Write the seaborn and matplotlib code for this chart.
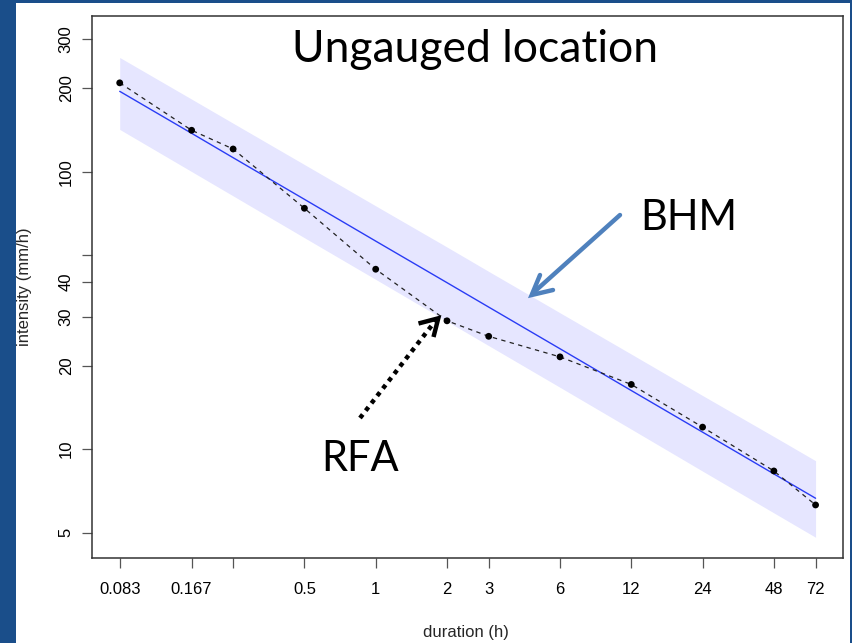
import numpy as np
import pandas as pd
import matplotlib
matplotlib.use("Agg")
import matplotlib.pyplot as plt
from matplotlib.lines import Line2D
from matplotlib.patches import Rectangle
from matplotlib.ticker import FixedLocator, FixedFormatter, NullLocator
import seaborn as sns

# ---- data ----
durations = [0.083, 0.167, 0.25, 0.5, 1, 2, 3, 6, 12, 24, 48, 72]
rfa_intensity = [209, 141, 120.7, 73.8, 44.5, 29.0, 25.5, 21.5, 17.1, 12.0, 8.34, 6.29]
bhm_median = [194.8, 137.5, 112.3, 79.5, 56.2, 39.8, 32.5, 23.0, 16.26, 11.51, 8.14, 6.65]
bhm_upper = [258, 182.6, 149.5, 106.1, 75.3, 53.5, 43.7, 31.0, 22.0, 15.6, 11.1, 9.08]
bhm_lower = [142, 100.1, 81.8, 57.8, 40.9, 28.9, 23.6, 16.7, 11.8, 8.33, 5.89, 4.81]

x_ticks = [0.083, 0.167, 0.25, 0.5, 1, 2, 3, 6, 12, 24, 48, 72]
x_ticklabels = ["0.083", "0.167", "", "0.5", "1", "2", "3", "6", "12", "24", "48", "72"]
y_ticks = [5, 10, 20, 30, 40, 50, 100, 200, 300]
y_ticklabels = ["5", "10", "20", "30", "40", "", "100", "200", "300"]

title_text = "Ungauged location"
bhm_text = "BHM"
rfa_text = "RFA"
x_label = "duration (h)"
y_label = "intensity (mm/h)"

df = pd.DataFrame({"duration": durations, "rfa": rfa_intensity,
                   "median": bhm_median, "upper": bhm_upper, "lower": bhm_lower})

sns.set_theme(style="ticks")
plt.rcParams["font.family"] = ["Liberation Sans", "DejaVu Sans"]

W, H = 852, 643
fig = plt.figure(figsize=(W / 100, H / 100), dpi=100)
fig.patch.set_facecolor("#1a4e8a")
# white slide panel
fig.patches.append(Rectangle((16 / W, 0), (850 - 16) / W, (H - 3) / H,
                             transform=fig.transFigure, facecolor="white",
                             edgecolor="none", zorder=-5))

L, R, T, B = 92, 843, 16, 558
ax = fig.add_axes([L / W, 1 - B / H, (R - L) / W, (B - T) / H])
ax.set_zorder(1)
ax.set_facecolor("white")

ax.fill_between(df["duration"], df["lower"], df["upper"], color="#e6e6ff",
                linewidth=0, zorder=1)
sns.lineplot(data=df, x="duration", y="median", ax=ax, color="#2a3cf5",
             linewidth=1.0, zorder=2)
sns.lineplot(data=df, x="duration", y="rfa", ax=ax, color="#222222",
             linewidth=0.9, linestyle=(0, (3.5, 3.5)), zorder=3)
sns.scatterplot(data=df, x="duration", y="rfa", ax=ax, color="black",
                s=24, edgecolor="none", zorder=4)

ax.set_xscale("log")
ax.set_yscale("log")
ax.set_xlim(0.0634, 94.0)
ax.set_ylim(4.05, 364)
ax.xaxis.set_major_locator(FixedLocator(x_ticks))
ax.xaxis.set_major_formatter(FixedFormatter(x_ticklabels))
ax.yaxis.set_major_locator(FixedLocator(y_ticks))
ax.yaxis.set_major_formatter(FixedFormatter(y_ticklabels))
ax.xaxis.set_minor_locator(NullLocator())
ax.yaxis.set_minor_locator(NullLocator())

for s in ax.spines.values():
    s.set_visible(True)
    s.set_color("#333333")
    s.set_linewidth(1.1)

ax.tick_params(axis="both", which="major", direction="out", length=7.2,
               width=0.9, color="#555555", labelsize=12, labelcolor="black",
               bottom=True, left=True, top=False, right=False)
ax.tick_params(axis="x", pad=10)
ax.tick_params(axis="y", pad=6)
for lab in ax.get_yticklabels():
    lab.set_rotation(90)
    lab.set_va("center")

ax.set_xlabel("")
ax.set_ylabel("")
fig.text(466 / W, 1 - 632 / H, x_label, ha="center", va="center", fontsize=12)
fig.text(25 / W, 1 - 287 / H, y_label, ha="center", va="center", fontsize=12,
         rotation=90)

# slide text
fig.text(475 / W, 1 - 50 / H, title_text, ha="center", va="center",
         fontsize=32, family=["Lato", "DejaVu Sans"], color="black", zorder=10)
fig.text(689 / W, 1 - 218 / H, bhm_text, ha="center", va="center",
         fontsize=30, family=["Lato", "DejaVu Sans"], color="black", zorder=10)
fig.text(360 / W, 1 - 459 / H, rfa_text, ha="center", va="center",
         fontsize=30, family=["Lato", "DejaVu Sans"], color="black", zorder=10)

def fx(px):
    return px / W

def fy(py):
    return 1 - py / H

# BHM arrow (solid steel blue)
blue = "#4f81bd"
fig.lines.append(Line2D([fx(620), fx(533)], [fy(215), fy(293)],
                        transform=fig.transFigure, color=blue, linewidth=3.2,
                        solid_capstyle="round", zorder=10))
fig.lines.append(Line2D([fx(540), fx(531.7), fx(553)], [fy(275), fy(295), fy(290)],
                        transform=fig.transFigure, color=blue, linewidth=3.2,
                        solid_joinstyle="miter", solid_capstyle="round", zorder=10))

# RFA arrow (dotted black)
fig.lines.append(Line2D([fx(360), fx(436)], [fy(418), fy(320)],
                        transform=fig.transFigure, color="black", linewidth=3.2,
                        linestyle=(0, (1, 1.1)), dash_capstyle="butt", zorder=10))
fig.lines.append(Line2D([fx(418.5), fx(438.3), fx(433.5)], [fy(323.5), fy(318.3), fy(337)],
                        transform=fig.transFigure, color="black", linewidth=3.2,
                        solid_joinstyle="miter", solid_capstyle="butt", zorder=10))

fig.savefig("out.png", dpi=100, facecolor=fig.get_facecolor())
